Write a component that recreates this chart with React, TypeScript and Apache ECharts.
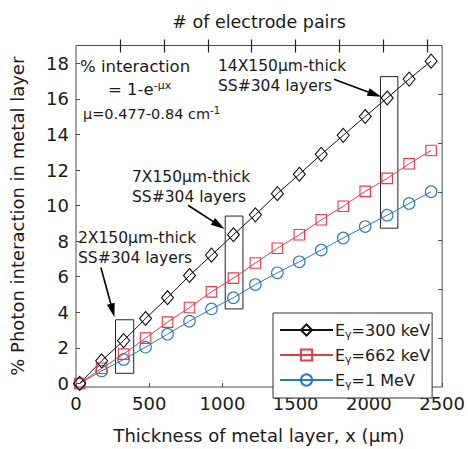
import React, { useEffect, useRef } from "react";
import * as echarts from "echarts";

// Thickness of metal layer (µm) for each stacked 150 µm SS#304 layer
const thicknessUm = [25, 175, 325, 475, 625, 775, 925, 1075, 1225, 1375, 1525, 1675, 1825, 1975, 2125, 2275, 2425];
// % photon interaction in metal layer
const kev300 = [0, 1.27, 2.41, 3.65, 4.82, 6.07, 7.21, 8.36, 9.48, 10.67, 11.76, 12.88, 13.95, 15.01, 16.05, 17.11, 18.12];
const kev662 = [0, 0.85, 1.65, 2.55, 3.45, 4.27, 5.15, 5.92, 6.77, 7.6, 8.36, 9.2, 9.96, 10.8, 11.53, 12.35, 13.1];
const mev1 = [0, 0.7, 1.35, 2.04, 2.77, 3.5, 4.19, 4.82, 5.56, 6.22, 6.84, 7.5, 8.18, 8.82, 9.46, 10.12, 10.78];

const seriesNames = ["Eγ=300 keV", "Eγ=662 keV", "Eγ=1 MeV"];
const yTickLabels = [0, 2, 4, 6, 8, 10, 12, 14, 16, 18];
const pairTicks = [300, 600, 900, 1200, 1500, 1800, 2100, 2400];
const rightTicks = [1, 2, 3, 4, 5, 6];

// highlighted layer stacks: [xFrom, xTo, yFrom, yTo]
const box2 = [270, 394, 0.57, 3.58];
const box7 = [1019, 1140, 4.19, 9.41];
const box14 = [2079, 2198, 8.73, 17.25];
// arrows: [xFrom, yFrom, xTo, yTo]
const arrow2 = [170, 6.52, 250, 4.1];
const arrow7 = [765, 10.02, 975, 8.9];
const arrow14 = [1762, 17.1, 2040, 16.25];

const FONT = "DejaVu Sans";
const TXT = "#1a1a1a";
const FRAME = "#4a4a4a";

function App() {
  const ref = useRef<HTMLDivElement>(null);
  useEffect(() => {
    const chart = echarts.init(ref.current!, null, { renderer: "svg" });
    const pts = (ys: number[]) => thicknessUm.map((x, i) => [x, ys[i]]);
    const boxItem = (b: number[]) => [{ coord: [b[0], b[2]] }, { coord: [b[1], b[3]] }];
    const arrowItem = (a: number[]) => [
      { coord: [a[0], a[1]], symbol: "none" },
      { coord: [a[2], a[3]], symbol: "triangle", symbolSize: [8, 14] },
    ];
    const mk = (name: string, ys: number[], color: string, symbol: string, size: any, extra: any = {}) => ({
      type: "line",
      name,
      data: pts(ys),
      symbol,
      symbolSize: size,
      showAllSymbol: true,
      lineStyle: { color, width: 1 },
      itemStyle: { color: "rgba(0,0,0,0)", borderColor: color, borderWidth: 1.1 },
      emphasis: { disabled: true },
      ...extra,
    });
    chart.setOption({
      animation: false,
      textStyle: { fontFamily: FONT },
      grid: {
        left: 71.5,
        right: 25.5,
        top: 45.5,
        bottom: 55.5,
        show: true,
        borderColor: FRAME,
        borderWidth: 1,
        backgroundColor: "#fff",
      },
      xAxis: [
        {
          type: "value",
          position: "bottom",
          min: 0,
          max: 2500,
          interval: 500,
          axisLine: { show: false, onZero: false },
          axisTick: { show: true, inside: true, length: 4, lineStyle: { color: FRAME } },
          splitLine: { show: false },
          axisLabel: { color: TXT, fontSize: 18, margin: 7, fontFamily: FONT, formatter: (v: number) => String(v) },
          name: "Thickness of metal layer, x (µm)",
          nameLocation: "middle",
          nameGap: 39,
          nameTextStyle: { color: TXT, fontSize: 18, fontFamily: FONT },
        },
        {
          type: "value",
          position: "top",
          offset: 6,
          min: 0,
          max: 2500,
          axisLine: { show: false, onZero: false },
          axisTick: { show: true, inside: true, length: 13, customValues: pairTicks, lineStyle: { color: "#222", width: 1.2 } },
          axisLabel: { show: false },
          splitLine: { show: false },
          name: "# of electrode pairs",
          nameLocation: "middle",
          nameGap: 9,
          nameTextStyle: { color: TXT, fontSize: 17.5, fontFamily: FONT },
        },
      ],
      yAxis: [
        {
          type: "value",
          position: "left",
          min: -0.2,
          max: 19,
          axisLine: { show: false, onZero: false },
          axisTick: { show: true, inside: true, length: 4, customValues: yTickLabels, lineStyle: { color: FRAME } },
          splitLine: { show: false },
          axisLabel: { color: TXT, fontSize: 18, margin: 7, customValues: yTickLabels, fontFamily: FONT },
          name: "% Photon interaction in metal layer",
          nameLocation: "middle",
          nameGap: 50,
          nameTextStyle: { color: TXT, fontSize: 18, fontFamily: FONT },
        },
        {
          type: "value",
          position: "right",
          min: 0,
          max: 7,
          axisLine: { show: false, onZero: false },
          axisTick: { show: true, inside: true, length: 4, customValues: rightTicks, lineStyle: { color: FRAME } },
          axisLabel: { show: false },
          splitLine: { show: false },
        },
      ],
      legend: {
        show: true,
        orient: "vertical",
        left: 273,
        top: 313,
        padding: [9, 2, 8, 6],
        itemGap: 7,
        itemWidth: 53,
        itemHeight: 14,
        backgroundColor: "#fff",
        borderColor: "#333",
        borderWidth: 1,
        borderRadius: 0,
        data: seriesNames,
        formatter: (n: string) => n.replace("γ", "{sub|γ}"),
        textStyle: {
          color: TXT,
          fontSize: 16,
          fontFamily: FONT,
          padding: [0, 0, 0, -3],
          rich: {
            sub: { fontSize: 11, fontFamily: FONT, color: TXT, verticalAlign: "bottom", padding: [9, 0, 0, 0] },
          },
        },
      },
      series: [
        mk(seriesNames[2], mev1, "#2f76c0", "circle", 11.5),
        mk(seriesNames[1], kev662, "#e23c4b", "rect", 10.5),
        mk(seriesNames[0], kev300, "#111", "diamond", [12, 14], {
          markArea: {
            silent: true,
            itemStyle: { color: "rgba(0,0,0,0)", borderColor: "#222", borderWidth: 1 },
            label: { show: false },
            data: [boxItem(box2), boxItem(box7), boxItem(box14)],
          },
          markLine: {
            silent: true,
            symbol: ["none", "triangle"],
            label: { show: false },
            lineStyle: { color: "#000", width: 1.6, type: "solid" },
            itemStyle: { color: "#000" },
            data: [arrowItem(arrow2), arrowItem(arrow7), arrowItem(arrow14)],
          },
        }),
      ],
      graphic: [
        {
          type: "text",
          left: 80,
          top: 58,
          style: { text: "% interaction", font: `16.5px ${FONT}`, fill: TXT },
        },
        {
          type: "text",
          left: 108,
          top: 80,
          style: {
            text: "= 1-e{sup|-µx}",
            font: `16.5px ${FONT}`,
            fill: TXT,
            rich: { sup: { fontSize: 11, fontFamily: FONT, fill: TXT, verticalAlign: "top", padding: [0, 0, 7, 0] } },
          },
        },
        {
          type: "text",
          left: 83,
          top: 105,
          style: {
            text: "µ=0.477-0.84 cm{sup|-1}",
            font: `14.5px ${FONT}`,
            fill: TXT,
            rich: { sup: { fontSize: 10, fontFamily: FONT, fill: TXT, verticalAlign: "top", padding: [0, 0, 7, 0] } },
          },
        },
        {
          type: "text",
          left: 218,
          top: 56,
          style: { text: "14X150µm-thick\nSS#304 layers", font: `15.5px ${FONT}`, fill: TXT, lineHeight: 20 },
        },
        {
          type: "text",
          left: 132,
          top: 167,
          style: { text: "7X150µm-thick\nSS#304 layers", font: `15.5px ${FONT}`, fill: TXT, lineHeight: 20 },
        },
        {
          type: "text",
          left: 78,
          top: 228,
          style: { text: "2X150µm-thick\nSS#304 layers", font: `15.5px ${FONT}`, fill: TXT, lineHeight: 20 },
        },
      ],
    });
    return () => chart.dispose();
  }, []);
  return (
    <div
      ref={ref}
      style={{ position: "fixed", left: 0, top: 0, width: 468, height: 449, background: "#fff" }}
    />
  );
}

export default App;
